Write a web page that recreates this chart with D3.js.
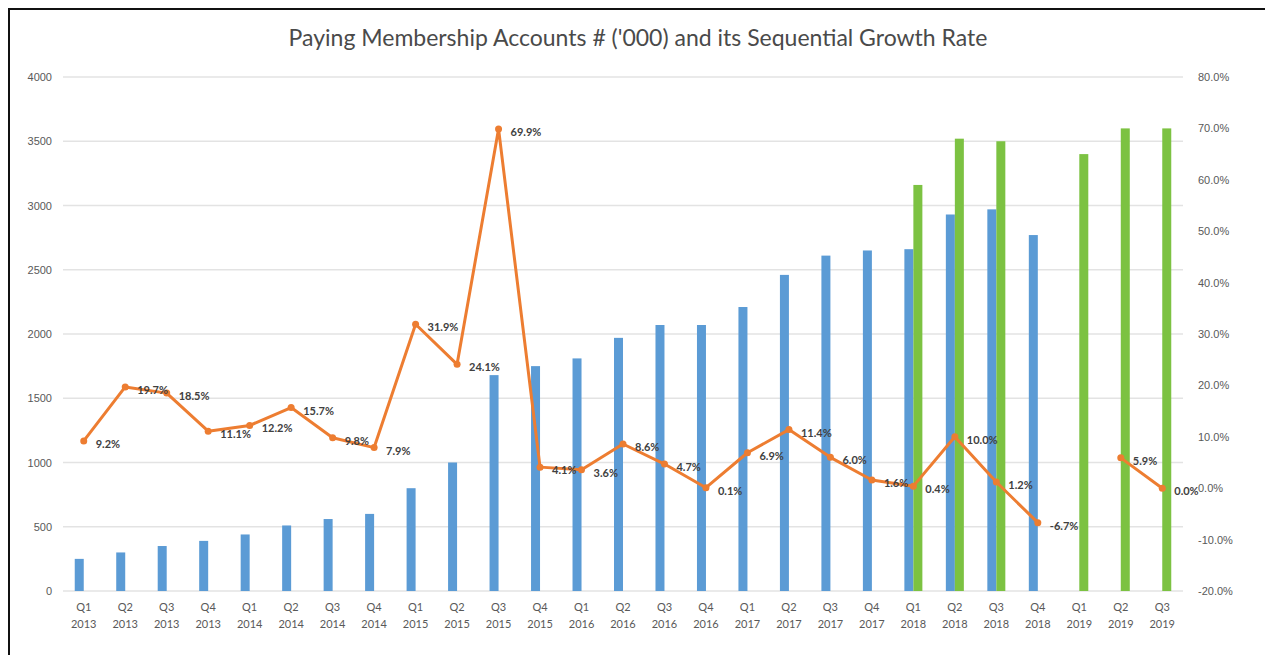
<!DOCTYPE html>
<html>
<head>
<meta charset="utf-8">
<script src="https://cdn.jsdelivr.net/npm/d3@7"></script>
<style>
  body { margin: 0; background: #fff; }
  svg { display: block; font-family: Lato, "Open Sans", sans-serif; }
</style>
</head>
<body>
<div id="chart"></div>
<script>
var width = 1265,
    height = 655

// data
var quarters = ["Q1","Q2","Q3","Q4","Q1","Q2","Q3","Q4","Q1","Q2","Q3","Q4","Q1","Q2","Q3","Q4","Q1","Q2","Q3","Q4","Q1","Q2","Q3","Q4","Q1","Q2","Q3"]
var years = ["2013","2013","2013","2013","2014","2014","2014","2014","2015","2015","2015","2015","2016","2016","2016","2016","2017","2017","2017","2017","2018","2018","2018","2018","2019","2019","2019"]
var accounts = [250, 300, 350, 390, 440, 510, 560, 600, 800, 1000, 1680, 1750, 1810, 1970, 2070, 2070, 2210, 2460, 2610, 2650, 2660, 2930, 2970, 2770, null, null, null]
var accounts2 = [null, null, null, null, null, null, null, null, null, null, null, null, null, null, null, null, null, null, null, null, 3160, 3520, 3500, null, 3400, 3600, 3600]
var growth = [9.2, 19.7, 18.5, 11.1, 12.2, 15.7, 9.8, 7.9, 31.9, 24.1, 69.9, 4.1, 3.6, 8.6, 4.7, 0.1, 6.9, 11.4, 6.0, 1.6, 0.4, 10.0, 1.2, -6.7, null, 5.9, 0.0]
var leftTicks = [0, 500, 1000, 1500, 2000, 2500, 3000, 3500, 4000]
var rightTicks = [-20, -10, 0, 10, 20, 30, 40, 50, 60, 70, 80]
var title = "Paying Membership Accounts # ('000) and its Sequential Growth Rate"

var cats = quarters.map(function(q, i) { return q + " " + years[i] })

var svg = d3.select("#chart")
  .append("svg")
    .attr("width", width)
    .attr("height", height)

// frame
svg.append("path")
  .attr("d", "M9," + height + " V9 H" + width)
  .attr("fill", "none")
  .attr("stroke", "#111")
  .attr("stroke-width", 2)

svg.append("text")
  .attr("x", 638)
  .attr("y", 46)
  .attr("text-anchor", "middle")
  .attr("fill", "#4a4a4a")
  .style("font-size", "23px")
  .text(title)

// scales
var x = d3.scaleBand()
  .domain(cats)
  .range([63, 1183])

var xs = d3.scaleBand()
  .domain(["a", "b"])
  .range([x.bandwidth() / 2 - 9, x.bandwidth() / 2 + 9])

var y = d3.scaleLinear().domain([0, 4000]).range([591, 77])
var y2 = d3.scaleLinear().domain([-20, 80]).range([591, 77])

// gridlines
svg.append("g")
  .selectAll("line")
  .data(leftTicks)
  .enter()
  .append("line")
    .attr("x1", 63)
    .attr("x2", 1183)
    .attr("y1", function(d) { return y(d) })
    .attr("y2", function(d) { return y(d) })
    .attr("stroke", "#e3e3e3")
    .attr("stroke-width", 1.5)

// left axis
var yAxis = svg.append("g")
  .attr("transform", "translate(52,0)")
  .call(d3.axisLeft(y).tickValues(leftTicks).tickSize(0).tickPadding(0).tickFormat(d3.format("d")))
yAxis.select(".domain").remove()
yAxis.selectAll("text").attr("fill", "#595959").style("font-size", "11px")

// right axis
var yAxis2 = svg.append("g")
  .attr("transform", "translate(1198,0)")
  .call(d3.axisRight(y2).tickValues(rightTicks).tickSize(0).tickPadding(0)
    .tickFormat(function(d) { return d.toFixed(1) + "%" }))
yAxis2.select(".domain").remove()
yAxis2.selectAll("text").attr("fill", "#595959").style("font-size", "11px")

// bars
svg.append("g")
  .selectAll("rect")
  .data(accounts.map(function(v, i) { return {c: cats[i], v: v} }).filter(function(d) { return d.v != null }))
  .enter()
  .append("rect")
    .attr("x", function(d) { return x(d.c) + xs("a") })
    .attr("width", xs.bandwidth())
    .attr("y", function(d) { return y(d.v) })
    .attr("height", function(d) { return y(0) - y(d.v) })
    .attr("fill", "#5b9bd5")

svg.append("g")
  .selectAll("rect")
  .data(accounts2.map(function(v, i) { return {c: cats[i], v: v} }).filter(function(d) { return d.v != null }))
  .enter()
  .append("rect")
    .attr("x", function(d) { return x(d.c) + xs("b") })
    .attr("width", xs.bandwidth())
    .attr("y", function(d) { return y(d.v) })
    .attr("height", function(d) { return y(0) - y(d.v) })
    .attr("fill", "#7cc242")

// x labels
var xl = svg.append("g")
  .selectAll("text")
  .data(cats)
  .enter()
  .append("text")
    .attr("text-anchor", "middle")
    .attr("fill", "#595959")
    .style("font-size", "11px")
xl.append("tspan")
  .attr("x", function(d) { return x(d) + x.bandwidth() / 2 })
  .attr("y", 611)
  .text(function(d, i) { return quarters[i] })
xl.append("tspan")
  .attr("x", function(d) { return x(d) + x.bandwidth() / 2 })
  .attr("y", 628)
  .text(function(d, i) { return years[i] })

// growth line
var pts = growth.map(function(v, i) { return {c: cats[i], v: v} })
var line = d3.line()
  .defined(function(d) { return d.v != null })
  .x(function(d) { return x(d.c) + x.bandwidth() / 2 })
  .y(function(d) { return y2(d.v) })

svg.append("path")
  .datum(pts)
  .attr("d", line)
  .attr("fill", "none")
  .attr("stroke", "#ed7d31")
  .attr("stroke-width", 3)
  .attr("stroke-linejoin", "round")

var shown = pts.filter(function(d) { return d.v != null })

svg.append("g")
  .selectAll("circle")
  .data(shown)
  .enter()
  .append("circle")
    .attr("cx", function(d) { return x(d.c) + x.bandwidth() / 2 })
    .attr("cy", function(d) { return y2(d.v) })
    .attr("r", 3.5)
    .attr("fill", "#ed7d31")

svg.append("g")
  .selectAll("text")
  .data(shown)
  .enter()
  .append("text")
    .attr("x", function(d) { return x(d.c) + x.bandwidth() / 2 + 12 })
    .attr("y", function(d) { return y2(d.v) + 7 })
    .attr("fill", "#404040")
    .style("font-size", "11px")
    .style("font-weight", "bold")
    .text(function(d) { return d.v.toFixed(1) + "%" })
</script>
</body>
</html>
